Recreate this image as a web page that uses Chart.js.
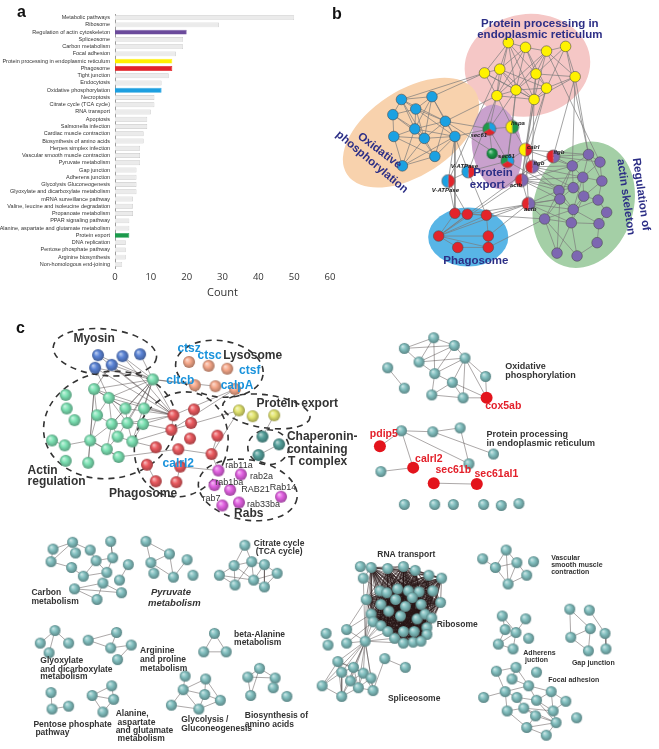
<!DOCTYPE html>
<html>
<head>
<meta charset="UTF-8" />
<title>KEGG pathways and networks</title>
<script src="https://cdn.jsdelivr.net/npm/chart.js@4.4.0/dist/chart.umd.min.js"></script>
<style>
  body { margin: 0; background: #fff; }
  #fig { position: relative; width: 659px; height: 749px; overflow: hidden; }
  #fig canvas { position: absolute; }
  #chartA { left: 0; top: 0; }
  #chartB { left: 330px; top: 0; }
  #chartC { left: 0; top: 290px; }
  .tag { position: absolute; font: bold 16px "Liberation Sans", Arial, sans-serif; line-height: 1; color: #111; }
</style>
</head>
<body>
<div id="fig">
  <canvas id="chartC" width="659" height="459"></canvas>
  <canvas id="chartB" width="329" height="290"></canvas>
  <canvas id="chartA" width="340" height="300"></canvas>
  <div class="tag" style="left:17px;top:4px">a</div>
  <div class="tag" style="left:332px;top:6px">b</div>
  <div class="tag" style="left:16px;top:320px">c</div>
</div>
<script>
// ---------- panel a: enriched KEGG pathways ----------
var pathways = ['Metabolic pathways', 'Ribosome', 'Regulation of actin cytoskeleton', 'Spliceosome',
  'Carbon metabolism', 'Focal adhesion', 'Protein processing in endoplasmic reticulum', 'Phagosome',
  'Tight junction', 'Endocytosis', 'Oxidative phosphorylation', 'Necroptosis', 'Citrate cycle (TCA cycle)',
  'RNA transport', 'Apoptosis', 'Salmonella infection', 'Cardiac muscle contraction',
  'Biosynthesis of amino acids', 'Herpes simplex infection', 'Vascular smooth muscle contraction',
  'Pyruvate metabolism', 'Gap junction', 'Adherens junction', 'Glycolysis Gluconeogenesis',
  'Glyoxylate and dicarboxylate metabolism', 'mRNA surveillance pathway',
  'Valine, leucine and isoleucine degradation', 'Propanoate metabolism', 'PPAR signaling pathway',
  'Alanine, aspartate and glutamate metabolism', 'Protein export', 'DNA replication',
  'Pentose phosphate pathway', 'Arginine biosynthesis', 'Non-homologous end-joining'];
var geneCounts = [50, 29, 20, 19, 19, 17, 16, 16, 15, 13, 13, 11, 11, 10, 9, 9, 8, 8, 7, 7, 7, 6, 6, 6, 6,
  5, 5, 5, 4, 4, 4, 3, 3, 3, 2];
var countTicks = [0, 10, 20, 30, 40, 50, 60];

// ---------- panel b: network of five pathways ----------
var bYellow = [[509,37],[527,42],[549,46],[569,41],[484,69],[500,65],[538,70],[579,73],[497,93],[517,87],[536,97],[549,85]];
var bBlue = [[397,97],[429,94],[388,113],[412,107],[443,120],[411,128],[389,136],[421,138],[453,136],[432,157],[398,167]];
var bRed = [[453,217],[466,218],[486,219],[436,241],[456,253],[488,241],[488,253]];
var bPurple = [[593,155],[605,163],[576,167],[587,179],[607,183],[577,190],[562,193],[588,199],[603,203],[563,202],
  [577,213],[612,216],[547,223],[575,227],[604,228],[602,248],[560,259],[581,262]];
var bShared = [[489,128],[513,126],[492,154],[508,162],[527,150],[556,157],[534,168],[467,173],[446,183],[523,182],[530,207]];
var bSharedIn = ['BRG', 'GY', 'G', 'BRG', 'RY', 'PR', 'PR', 'RB', 'RB', 'PR', 'PR'];
var bSharedNames = ['sec61', 'hspa', '', 'sec61', 'calrl', 'itgb', 'itgb', 'V-ATPase', 'V-ATPase', 'actb', 'actb'];
var bLinks = `
Y0-Y1 Y0-Y4 Y0-Y5 Y0-Y8 Y0-Y9 Y0-Y10 Y0-Y6 Y1-Y2 Y1-Y5 Y1-Y6 Y1-Y9 Y1-Y11 Y2-Y3 Y2-Y6 Y2-Y7 Y2-Y9 Y2-Y10
Y3-Y6 Y3-Y7 Y4-Y5 Y4-Y8 Y4-Y9 Y5-Y8 Y5-Y9 Y5-Y11 Y5-Y10 Y6-Y7 Y6-Y9 Y6-Y10 Y6-Y11 Y7-Y11 Y7-Y10 Y8-Y9 Y8-Y10
Y9-Y10 Y9-Y11 Y10-Y11 Y4-Y10 Y1-Y8 Y3-Y11 Y2-Y8
Y8-M1 Y9-M1 Y10-M4 Y11-M4 Y9-M0 Y8-M0 Y6-M4 Y10-M9 Y11-M9 Y7-M5 Y7-P0 Y10-M6 Y4-B1 Y8-B4 Y4-B0 Y8-M7 Y9-M3 Y5-M8
Y3-P0 Y7-P2 Y2-P1
B0-B1 B0-B2 B0-B3 B0-B4 B0-B5 B1-B3 B1-B4 B1-B8 B1-B5 B2-B3 B2-B5 B2-B6 B2-B7 B3-B4 B3-B5 B3-B7 B3-B8 B4-B5
B4-B7 B4-B8 B4-B9 B5-B6 B5-B7 B5-B8 B5-B9 B5-B10 B6-B7 B6-B10 B6-B9 B7-B8 B7-B9 B7-B10 B8-B9 B8-B10 B9-B10
B1-B7 B0-B7 B8-M0 B8-M7 B8-M8 B4-M0 B8-R0 B4-M3
M0-M2 M0-M3 M0-M1 M1-M4 M3-M4 M1-M3 M4-M9 M4-M6 M7-M8 M7-M3 M9-M10 M5-M6 M6-M9 M2-M3 M4-M10
R0-R1 R1-R2 R0-R3 R3-R4 R3-R5 R2-R5 R5-R6 R4-R6 R2-R3 R1-R3 R0-R2 R3-R6 R2-M10 R3-M9 R3-M10 R1-M8 R0-M8
R2-M7 R5-M10 R3-M6 R6-P12 R2-P12 R1-P9
P0-P1 P0-P2 P0-P3 P0-P4 P1-P3 P1-P4 P2-P3 P2-P5 P2-P6 P3-P4 P3-P5 P3-P7 P4-P7 P4-P8 P5-P6 P5-P7 P5-P9 P6-P9
P6-P12 P7-P8 P7-P10 P8-P11 P8-P10 P9-P10 P9-P12 P10-P13 P10-P14 P11-P14 P12-P13 P12-P16 P13-P14 P13-P16
P13-P17 P14-P15 P15-P17 P10-P12 P6-P10 P12-P17 P9-P16 P3-P10 P2-P9 P7-P13
M5-P0 M5-P2 M6-P2 M6-P5 M9-P6 M9-P5 M10-P6 M10-P9 M9-P3 M6-P6 M10-P12 M9-P9 M9-P2 M5-P1 M10-P13 M10-P10
M4-P0 M4-P2 M3-P6 M6-P3`;

// ---------- panel c: gene networks ----------
var cMyosin = [[93,350],[118,351],[136,349],[90,363],[107,360]];
var cLysosome = [[186,357],[206,361],[225,364],[192,381],[213,382],[233,385]];
var cActin = [[149,375],[89,385],[60,391],[104,394],[61,405],[140,405],[121,405],[92,412],[69,417],[107,421],
  [123,420],[139,421],[46,438],[59,443],[85,438],[113,434],[128,439],[102,447],[114,455],[60,459],[83,461]];
var cPhagosome = [[170,412],[191,406],[188,420],[168,427],[187,436],[215,433],[152,445],[175,447],[209,452],
  [143,463],[177,465],[152,480],[173,481]];
var cExport = [[237,407],[251,413],[273,412]];
var cCct = [[261,434],[278,442],[257,453]];
var cRabs = [[216,469],[239,473],[212,484],[228,489],[280,496],[220,505],[237,502]];
var cMarked = [[490,394],[381,444],[415,466],[436,482],[480,483]];
var cOxphos = [[436,332],[406,343],[457,340],[421,357],[468,353],[389,363],[437,369],[489,372],[455,378],
  [406,384],[434,391],[466,394]];
var cErProc = [[403,428],[435,429],[463,425],[497,452],[472,462],[382,470]];
var cSingles = [[406,504],[437,504],[456,504],[487,504],[505,505],[523,503]];
var cCarbon = [[47,550],[67,543],[85,551],[106,542],[70,554],[45,563],[91,562],[108,559],[66,569],[78,578],
  [102,574],[124,566],[115,582],[69,591],[98,585],[117,595],[92,602]];
var cPyruvate = [[142,542],[166,555],[147,564],[184,561],[150,575],[170,579],[190,577]];
var cTca = [[243,546],[232,567],[250,563],[263,566],[217,577],[252,582],[276,575],[233,587],[263,589]];
var cGlyox = [[49,634],[34,647],[63,647],[43,657]];
var cArg = [[112,636],[83,644],[106,652],[127,649],[113,664]];
var cBala = [[212,637],[201,656],[224,656]];
var cPentose = [[45,698],[46,715],[63,712]];
var cAla = [[107,691],[87,701],[109,705],[98,718]];
var cGlyco = [[182,681],[203,684],[180,695],[202,700],[218,706],[168,711],[196,715]];
var cAmino = [[258,673],[246,682],[274,683],[272,693],[249,701],[286,702]];
var cRibo = [[361,568],[372,569],[389,570],[405,568],[417,572],[431,577],[444,580],[364,580],[381,593],[388,595],
  [399,591],[410,593],[421,594],[435,593],[367,602],[397,602],[414,600],[443,605],[382,607],[407,609],
  [423,607],[390,614],[402,619],[419,622],[427,617],[434,621],[372,617],[374,625],[382,629],[429,631],
  [389,635],[405,635],[416,635],[429,638],[396,642],[405,647],[415,646],[423,645]];
var riboCore = [1,2,3,4,5,6,8,9,10,11,12,13,14,15,16,17,18,19,20,21,22,23,24,25,26,27,28,29,30,31,32,33,34,35,36,37];
var cSplice = [[366,645],[338,666],[354,672],[342,677],[364,678],[372,683],[351,686],[359,693],[374,696],
  [342,702],[322,691],[347,633],[347,647],[326,637],[328,649]];
var cPair = [[386,663],[407,672]];
var cVsmc = [[510,551],[486,560],[499,569],[521,564],[538,563],[531,577],[512,586]];
var cAdherens = [[506,619],[530,622],[509,633],[520,636],[533,642],[502,648],[517,653]];
var cGap = [[575,612],[595,613],[596,632],[576,641],[611,637],[594,655],[612,653]];
var cFocal = [[500,676],[520,672],[541,677],[516,684],[533,691],[509,697],[556,697],[487,703],[521,703],[541,706],
  [571,707],[511,717],[528,714],[558,717],[540,722],[582,724],[561,729],[531,734],[551,742]];
var cLinks = `
m0-g0 m0-r0 m1-g0 m1-r0 m2-g0 m3-g0 m3-r0 m3-g3 m4-g0 m4-r0 m4-g1
g0-g1 g0-g3 g0-g5 g0-g6 g0-g9 g0-g10 g0-g15 g0-g16 g0-r0 g0-l3 g0-l4
g1-g3 g1-g7 g1-g14 g1-g20 g1-r0 g1-g6 g3-g6 g3-g7 g3-g9 g3-r0 g3-g10 g5-g11 g5-r0 g6-g10 g6-g9 g6-r0
g7-g9 g7-g14 g9-g10 g9-g14 g9-g15 g9-g17 g10-g11 g10-g16 g10-r0 g11-g16 g11-r0 g11-r3
g12-g13 g13-g14 g14-g17 g14-g18 g14-g20 g15-g16 g15-g17 g16-r3 g16-r6 g17-g18 g18-r7
r0-r3 r3-y0 r7-r8 r8-y0 r8-r5 r10-r12 r9-r11 r3-l5 r0-l5 p0-r8 p0-r10 k0-y2 k1-k2
o0-o1 o0-o2 o0-o3 o0-o6 o1-o3 o1-o2 o2-o3 o2-o4 o3-o4 o3-o6 o4-o6 o4-o7 o4-o8 o4-o11 o4-X0 o6-o8 o6-o10
o7-X0 o8-o10 o8-o11 o8-X0 o10-o11 o11-X0 o5-o9 o2-o6
e0-e1 e1-e2 e0-e4 e1-e3 e2-e4 e0-X2 e0-X1 e5-X2 X3-X4
c0-c1 c0-c5 c1-c5 c5-c8 c8-c9 c9-c6 c6-c2 c6-c7 c7-c3 c6-c10 c10-c7 c9-c10 c11-c12 c13-c14 c13-c15 c13-c16
c14-c15 c14-c16 c1-c2 c3-c7
v0-v1 v0-v2 v1-v2 v1-v5 v3-v5 v2-v5
t0-t1 t0-t2 t1-t2 t1-t4 t1-t5 t1-t7 t2-t5 t2-t7 t3-t5 t3-t6 t3-t8 t4-t7 t4-t5 t5-t6 t5-t8 t6-t8 t2-t3
x0-x1 x0-x2 x0-x3 a0-a1 a1-a2 a0-a2 a2-a3 a3-a4 b0-b1 b0-b2 b1-b2 n0-n1 n1-n2
d0-d1 d0-d2 d1-d2 d1-d3 d2-d3
h0-h2 h1-h2 h1-h3 h1-h4 h2-h3 h2-h5 h2-h6 h3-h6 h4-h6 h5-h6 h3-h4
i0-i1 i0-i2 i1-i2 i1-i4 i0-i4
z0-z1 z0-z2 z0-z3 z0-z4 z0-z5 z0-z6 z0-z7 z0-z8 z0-z9 z0-z10 z1-z2 z1-z3 z1-z4 z1-z6 z1-z9 z1-z10 z2-z3
z2-z4 z2-z5 z2-z6 z2-z7 z3-z6 z3-z9 z3-z10 z4-z5 z4-z6 z4-z7 z4-z8 z5-z7 z5-z8 z6-z7 z6-z9 z7-z8 z7-z9
z9-z10 z0-z11 z0-z12 z11-q14 z11-q26 z12-q27 w0-w1 w0-z8
z0-q1 z0-q7 z0-q14 z0-q26 z0-q27 z0-q28 z0-q30 z0-q34 z0-q35 z0-q21 q0-q1 q7-q1 q7-q8
u0-u2 u0-u3 u0-u6 u1-u2 u2-u3 u2-u6 u3-u6 u3-u5 u5-u6
j0-j2 j0-j3 j1-j3 j2-j3 j2-j5 j3-j5 j3-j6 j5-j6
f0-f3 f0-f2 f2-f3 f2-f5 f3-f5 f1-f4 f4-f6
F0-F1 F0-F5 F1-F3 F1-F4 F3-F4 F4-F5 F5-F7 F5-F8 F4-F6 F6-F9 F6-F10 F5-F11 F8-F9 F8-F12 F9-F13 F11-F12
F12-F14 F12-F13 F13-F16 F14-F16 F14-F17 F16-F17 F16-F18 F17-F18 F13-F10 F11-F17 F4-F9 F6-F13 F9-F16 F12-F16`;

// ---------- helpers ----------
function mix(hex, to, t) {
  var a = parseInt(hex.slice(1), 16), b = parseInt(to.slice(1), 16);
  var r = Math.round(((a >> 16) & 255) * (1 - t) + ((b >> 16) & 255) * t);
  var g = Math.round(((a >> 8) & 255) * (1 - t) + ((b >> 8) & 255) * t);
  var bl = Math.round((a & 255) * (1 - t) + (b & 255) * t);
  return 'rgb(' + r + ',' + g + ',' + bl + ')';
}
function sphere(color, r) {
  var c = document.createElement('canvas');
  var s = Math.ceil(r * 2 + 2);
  c.width = s; c.height = s;
  var g = c.getContext('2d');
  var grad = g.createRadialGradient(s / 2 - r * 0.35, s / 2 - r * 0.4, r * 0.05, s / 2, s / 2, r);
  grad.addColorStop(0, mix(color, '#ffffff', 0.6));
  grad.addColorStop(0.45, color);
  grad.addColorStop(1, mix(color, '#000000', 0.3));
  g.fillStyle = grad;
  g.beginPath(); g.arc(s / 2, s / 2, r, 0, Math.PI * 2); g.fill();
  return c;
}
function pie(colors, r) {
  var c = document.createElement('canvas');
  var s = Math.ceil(r * 2 + 2);
  c.width = s; c.height = s;
  var g = c.getContext('2d');
  var step = Math.PI * 2 / colors.length, start = -Math.PI / 2;
  colors.forEach(function (col, i) {
    g.fillStyle = col;
    g.beginPath(); g.moveTo(s / 2, s / 2);
    g.arc(s / 2, s / 2, r, start + i * step, start + (i + 1) * step);
    g.closePath(); g.fill();
  });
  g.strokeStyle = '#555'; g.lineWidth = 0.6;
  g.beginPath(); g.arc(s / 2, s / 2, r, 0, Math.PI * 2); g.stroke();
  return c;
}
function table(groups) {
  var t = {};
  Object.keys(groups).forEach(function (p) {
    groups[p].forEach(function (pt, i) { t[p + i] = pt; });
  });
  return t;
}
function linkData(t, links) {
  var out = [];
  links.trim().split(/\s+/).forEach(function (e) {
    var ab = e.split('-'), A = t[ab[0]], B = t[ab[1]];
    if (!A || !B) return;
    out.push({x: A[0], y: A[1]}, {x: B[0], y: B[1]}, {x: B[0], y: null});
  });
  return out;
}
function pts(arr) { return arr.map(function (p) { return {x: p[0], y: p[1]}; }); }

// areas and labels are drawn through the chart scales
function areaPlugin(list) {
  return {
    id: 'areas',
    beforeDatasetsDraw: function (chart) {
      var ctx = chart.ctx, xs = chart.scales.x, ys = chart.scales.y;
      list.forEach(function (a) {
        var cx = xs.getPixelForValue(a.c[0]), cy = ys.getPixelForValue(a.c[1]);
        var rx = Math.abs(xs.getPixelForValue(a.c[0] + a.r[0]) - cx);
        var ry = Math.abs(ys.getPixelForValue(a.c[1] + a.r[1]) - cy);
        ctx.save();
        ctx.beginPath();
        ctx.ellipse(cx, cy, rx, ry, (a.rot || 0) * Math.PI / 180, 0, Math.PI * 2);
        if (a.fill) { ctx.fillStyle = a.fill; ctx.fill(); }
        if (a.dash) {
          ctx.setLineDash(a.dash); ctx.lineWidth = 1.6; ctx.strokeStyle = '#333'; ctx.stroke();
        }
        ctx.restore();
      });
    }
  };
}
function textPlugin(list, fonts) {
  return {
    id: 'texts',
    afterDatasetsDraw: function (chart) {
      var ctx = chart.ctx, xs = chart.scales.x, ys = chart.scales.y;
      list.forEach(function (l) {
        var f = fonts[l[3]];
        ctx.save();
        ctx.translate(xs.getPixelForValue(l[1]), ys.getPixelForValue(l[2]));
        if (l[5]) ctx.rotate(l[5] * Math.PI / 180);
        ctx.font = f.font; ctx.fillStyle = f.color;
        ctx.textAlign = l[4] || 'center'; ctx.textBaseline = 'middle';
        ctx.fillText(l[0], 0, 0);
        ctx.restore();
      });
    }
  };
}
var SANS = '"Liberation Sans", Arial, sans-serif';
var netOptions = function (xmin, xmax, ymin, ymax) {
  return {
    responsive: false, animation: false, events: [],
    layout: {padding: 0},
    plugins: {legend: {display: false}, tooltip: {enabled: false}},
    scales: {
      x: {type: 'linear', min: xmin, max: xmax, display: false},
      y: {type: 'linear', min: ymin, max: ymax, reverse: true, display: false}
    }
  };
};

// ---------- chart a ----------
var barColors = {
  'Regulation of actin cytoskeleton': '#6b4a9b',
  'Protein processing in endoplasmic reticulum': '#fff100',
  'Phagosome': '#e2242a',
  'Oxidative phosphorylation': '#1d9fe0',
  'Protein export': '#1b9a4c'
};
new Chart(document.getElementById('chartA'), {
  type: 'bar',
  data: {
    labels: pathways,
    datasets: [{
      data: geneCounts,
      backgroundColor: pathways.map(function (p) { return barColors[p] || '#ebebeb'; }),
      borderColor: pathways.map(function (p) { return barColors[p] || '#c6c6c6'; }),
      borderWidth: 0.7,
      barPercentage: 0.75,
      categoryPercentage: 0.9
    }]
  },
  options: {
    indexAxis: 'y', responsive: false, animation: false, events: [],
    layout: {padding: {top: 14, right: 10, left: 0, bottom: 0}},
    plugins: {legend: {display: false}, tooltip: {enabled: false}},
    scales: {
      y: {
        grid: {display: false, drawTicks: false},
        border: {display: true, color: '#9a9a9a', width: 1},
        ticks: {autoSkip: false, padding: 5, color: '#333', font: {family: SANS, size: 5.5}},
        afterFit: function (s) { s.width = 115; }
      },
      x: {
        min: 0, max: 60,
        afterBuildTicks: function (s) { s.ticks = countTicks.map(function (v) { return {value: v}; }); },
        grid: {display: false, drawTicks: false},
        border: {display: false},
        ticks: {padding: 4, color: '#333', font: {family: '"Open Sans", sans-serif', size: 9.5}},
        title: {display: true, text: 'Count', color: '#333', padding: {top: 0, bottom: 1},
          font: {family: '"Open Sans", sans-serif', size: 11}},
        afterFit: function (s) { s.height = 32; }
      }
    }
  }
});

// ---------- chart b ----------
var bColors = {Y: '#fff200', B: '#1ba1e2', R: '#e3242b', P: '#7d67b2', G: '#1e9a4a'};
var bTable = table({Y: bYellow, B: bBlue, R: bRed, P: bPurple, M: bShared});
function flatNodes(arr, col) {
  return {data: pts(arr), backgroundColor: col, borderColor: '#4d4d4d', borderWidth: 0.6, pointRadius: 5.3, order: 1};
}
var bAreas = [
  {c: [529, 61], r: [66, 54], rot: -8, fill: '#f5c7c6'},
  {c: [407, 132], r: [80, 45], rot: -33, fill: '#f8d2ad'},
  {c: [497, 147], r: [26, 45], rot: -8, fill: '#c9a1cd'},
  {c: [467, 242], r: [42, 31], rot: 0, fill: '#58b5e6'},
  {c: [588, 208], r: [52, 68], rot: 18, fill: '#a4cfa6'}
];
var bFonts = {
  t: {font: 'bold 11.5px ' + SANS, color: '#2d2f86'},
  g: {font: 'italic bold 6px ' + SANS, color: '#222'}
};
var bTexts = [
  ['Protein processing in', 542, 17, 't'], ['endoplasmic reticulum', 542, 29, 't'],
  ['Oxidative', 374, 151, 't', 'center', 37], ['phosphorylation', 366, 163, 't', 'center', 40],
  ['Protein', 493, 174, 't'], ['export', 487, 187, 't'], ['Phagosome', 475, 267, 't'],
  ['Regulation of', 648, 197, 't', 'center', 82], ['actin skeleton', 632, 200, 't', 'center', 82],
  ['sec61', 478, 135, 'g'], ['hspa', 519, 122, 'g'], ['sec61', 507, 157, 'g'], ['calrl', 535, 147, 'g'],
  ['itgb', 562, 153, 'g'], ['itgb', 541, 164, 'g'], ['V-ATPase', 463, 167, 'g'], ['V-ATPase', 443, 193, 'g'],
  ['actb', 517, 188, 'g'], ['actb', 532, 213, 'g']
];
new Chart(document.getElementById('chartB'), {
  type: 'scatter',
  data: {
    datasets: [
      {data: linkData(bTable, bLinks), showLine: true, spanGaps: false, pointRadius: 0,
        borderColor: '#7b7b7b', borderWidth: 0.7, order: 3},
      flatNodes(bYellow, bColors.Y), flatNodes(bBlue, bColors.B), flatNodes(bRed, bColors.R),
      flatNodes(bPurple, bColors.P),
      {data: pts(bShared), pointRadius: 6.5, order: 0,
        pointStyle: bSharedIn.map(function (s) {
          return s.length === 1 ? sphere(bColors[s], 5.5) : pie(s.split('').map(function (k) { return bColors[k]; }), 6.5);
        })}
    ]
  },
  options: netOptions(330, 659, 0, 290),
  plugins: [areaPlugin(bAreas), textPlugin(bTexts, bFonts)]
});

// ---------- chart c ----------
var cTable = table({m: cMyosin, l: cLysosome, g: cActin, r: cPhagosome, y: cExport, k: cCct, p: cRabs, X: cMarked,
  o: cOxphos, e: cErProc, c: cCarbon, v: cPyruvate, t: cTca, x: cGlyox, a: cArg, b: cBala, n: cPentose, d: cAla,
  h: cGlyco, i: cAmino, q: cRibo, z: cSplice, w: cPair, u: cVsmc, j: cAdherens, f: cGap, F: cFocal});
var riboLinks = [];
riboCore.forEach(function (a, ia) {
  riboCore.slice(ia + 1).forEach(function (b) { riboLinks.push('q' + a + '-q' + b); });
});
var teal = [].concat(cOxphos, cErProc, cSingles, cCarbon, cPyruvate, cTca, cGlyox, cArg, cBala, cPentose, cAla,
  cGlyco, cAmino, cRibo, cSplice, cPair, cVsmc, cAdherens, cGap, cFocal);
function ballNodes(arr, col, r) {
  return {data: pts(arr), pointStyle: sphere(col, r), pointRadius: r, order: 1};
}
var cAreas = [
  {c: [100, 347], r: [53, 24], rot: 6, dash: [6, 5]},
  {c: [217, 364], r: [45, 29], rot: 8, dash: [6, 5]},
  {c: [105, 422], r: [68, 55], rot: -10, dash: [6, 5]},
  {c: [178, 442], r: [47, 55], rot: 20, dash: [6, 5]},
  {c: [265, 408], r: [45, 17], rot: 8, dash: [6, 5]},
  {c: [267, 445], r: [21, 18], rot: 0, dash: [6, 5]},
  {c: [246, 489], r: [51, 31], rot: 10, dash: [6, 5]}
];
var cFonts = {
  big: {font: 'bold 12px ' + SANS, color: '#333'},
  blue: {font: 'bold 12px ' + SANS, color: '#1a93dc'},
  rab: {font: '9px ' + SANS, color: '#333'},
  red: {font: 'bold 10.5px ' + SANS, color: '#e3202a'},
  ox: {font: 'bold 9px ' + SANS, color: '#333'},
  sm: {font: 'bold 8.5px ' + SANS, color: '#333'},
  xs: {font: 'bold 7px ' + SANS, color: '#333'},
  it: {font: 'italic bold 9.5px ' + SANS, color: '#333'}
};
var cTexts = [
  ['Myosin', 89, 333, 'big'], ['Lysosome', 251, 351, 'big'], ['Protein export', 255, 400, 'big', 'left'],
  ['Chaperonin-', 286, 434, 'big', 'left'], ['containing', 286, 447, 'big', 'left'], ['T complex', 287, 460, 'big', 'left'],
  ['Actin', 21, 469, 'big', 'left'], ['regulation', 21, 481, 'big', 'left'], ['Phagosome', 139, 493, 'big'],
  ['Rabs', 247, 513, 'big'],
  ['ctsz', 186, 343, 'blue'], ['ctsc', 207, 351, 'blue'], ['ctsf', 248, 366, 'blue'], ['cltcb', 177, 376, 'blue'],
  ['calpA', 235, 381, 'blue'], ['calrl2', 175, 462, 'blue'],
  ['rab11a', 237, 464, 'rab'], ['rab2a', 260, 475, 'rab'], ['rab1ba', 227, 481, 'rab'], ['RAB21', 254, 489, 'rab'],
  ['Rab14', 282, 487, 'rab'], ['rab7', 209, 498, 'rab'], ['rab33ba', 262, 504, 'rab'],
  ['cox5ab', 507, 403, 'red'], ['pdip5', 385, 431, 'red'], ['calrl2', 431, 457, 'red'], ['sec61b', 456, 469, 'red'],
  ['sec61al1', 500, 473, 'red'],
  ['Oxidative', 509, 362, 'ox', 'left'], ['phosphorylation', 509, 371, 'ox', 'left'],
  ['Protein processing', 490, 432, 'ox', 'left'], ['in endoplasmic reticulum', 490, 441, 'ox', 'left'],
  ['Carbon', 25, 595, 'sm', 'left'], ['metabolism', 25, 604, 'sm', 'left'],
  ['Pyruvate', 147, 595, 'it', 'left'], ['metabolism', 144, 606, 'it', 'left'],
  ['Citrate cycle', 278, 544, 'sm'], ['(TCA cycle)', 278, 553, 'sm'],
  ['Glyoxylate', 34, 665, 'sm', 'left'], ['and dicarboxylate', 34, 674, 'sm', 'left'], ['metabolism', 34, 682, 'sm', 'left'],
  ['Arginine', 136, 655, 'sm', 'left'], ['and proline', 136, 664, 'sm', 'left'], ['metabolism', 136, 673, 'sm', 'left'],
  ['beta-Alanine', 232, 638, 'sm', 'left'], ['metabolism', 232, 647, 'sm', 'left'],
  ['Pentose phosphate', 27, 731, 'sm', 'left'], ['pathway', 29, 739, 'sm', 'left'],
  ['Alanine,', 111, 720, 'sm', 'left'], ['aspartate', 113, 729, 'sm', 'left'], ['and glutamate', 111, 737, 'sm', 'left'],
  ['metabolism', 113, 746, 'sm', 'left'],
  ['Glycolysis /', 178, 726, 'sm', 'left'], ['Gluconeogenesis', 178, 735, 'sm', 'left'],
  ['Biosynthesis of', 243, 722, 'sm', 'left'], ['amino acids', 243, 731, 'sm', 'left'],
  ['RNA transport', 408, 556, 'sm'], ['Ribosome', 439, 628, 'sm', 'left'], ['Spliceosome', 416, 704, 'sm'],
  ['Vascular', 556, 559, 'xs', 'left'], ['smooth muscle', 556, 567, 'xs', 'left'], ['contraction', 556, 574, 'xs', 'left'],
  ['Adherens', 544, 657, 'xs'], ['juction', 541, 664, 'xs'], ['Gap junction', 599, 668, 'xs'],
  ['Focal adhesion', 553, 685, 'xs', 'left']
];
new Chart(document.getElementById('chartC'), {
  type: 'scatter',
  data: {
    datasets: [
      {data: linkData(cTable, cLinks), showLine: true, spanGaps: false, pointRadius: 0,
        borderColor: 'rgba(70,60,60,0.75)', borderWidth: 0.6, order: 4},
      {data: linkData(cTable, riboLinks.join(' ')), showLine: true, spanGaps: false, pointRadius: 0,
        borderColor: 'rgba(40,22,22,0.85)', borderWidth: 0.6, order: 3},
      ballNodes(teal, '#82c0c0', 5.5),
      ballNodes(cMyosin, '#5b84d6', 6),
      ballNodes(cLysosome, '#f6a88a', 6),
      ballNodes(cActin, '#7de2b4', 6),
      ballNodes(cPhagosome, '#ea5a5f', 6),
      ballNodes(cExport, '#e3e56f', 6),
      ballNodes(cCct, '#55a09b', 6),
      ballNodes(cRabs, '#e262e2', 6),
      {data: pts(cMarked), backgroundColor: '#e3141c', borderWidth: 0, pointRadius: 6, order: 1}
    ]
  },
  options: netOptions(0, 659, 290, 749),
  plugins: [areaPlugin(cAreas), textPlugin(cTexts, cFonts)]
});
</script>
</body>
</html>
